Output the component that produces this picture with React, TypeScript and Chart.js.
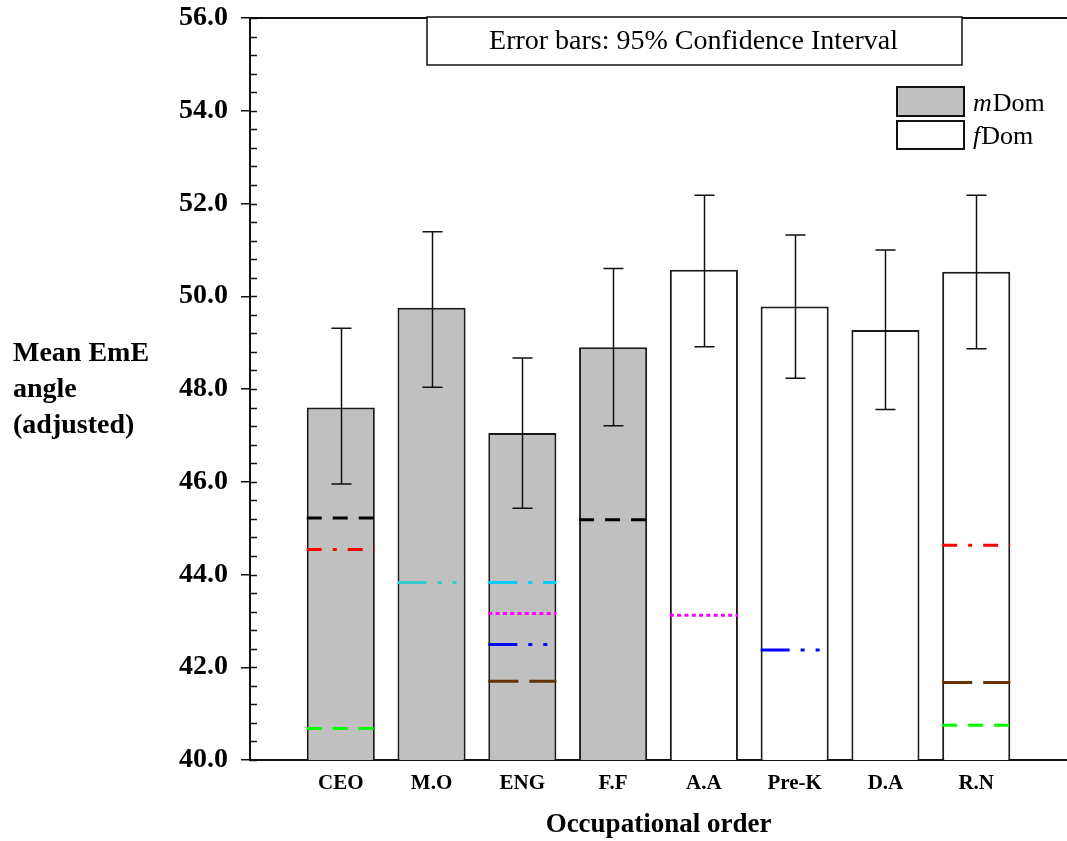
import React, { useEffect, useRef } from 'react';
import { Chart, registerables } from 'chart.js';

Chart.register(...registerables);

// ---------- data ----------
const categories = ['CEO', 'M.O', 'ENG', 'F.F', 'A.A', 'Pre-K', 'D.A', 'R.N'];
const mDomCategories = ['CEO', 'M.O', 'ENG', 'F.F'];
const fDomCategories = ['A.A', 'Pre-K', 'D.A', 'R.N'];
const mDomMeans = [47.6, 49.75, 47.05, 48.9];
const fDomMeans = [50.57, 49.78, 49.27, 50.53];
const ciLower = [45.95, 48.04, 45.43, 47.21, 48.91, 48.23, 47.56, 48.87];
const ciUpper = [49.31, 51.39, 48.67, 50.6, 52.18, 51.32, 51.0, 52.18];
const yTickValues = [40, 42, 44, 46, 48, 50, 52, 54, 56];

// reference marker lines inside bars
const refCategories = ['CEO', 'CEO', 'CEO', 'M.O', 'ENG', 'ENG', 'ENG', 'ENG', 'F.F', 'A.A', 'Pre-K', 'R.N', 'R.N', 'R.N'];
const refValues = [45.22, 44.54, 40.68, 43.83, 43.83, 43.16, 42.49, 41.7, 45.18, 43.12, 42.37, 44.63, 41.67, 40.75];
const refKinds = ['k', 'r', 'g', 'c', 's', 'm', 'b', 'n', 'k', 'm', 'b', 'r', 'n', 'g'];

const titleText = 'Error bars: 95% Confidence Interval';
const yTitleLines = ['Mean EmE', 'angle', '(adjusted)'];
const xTitleText = 'Occupational order';

// ---------- styles ----------
const refStyles: Record<string, { color: string; dash: number[] }> = {
  k: { color: '#000000', dash: [15, 11] },
  r: { color: '#ff0000', dash: [15, 11, 4, 11] },
  g: { color: '#00ff00', dash: [15, 11] },
  c: { color: '#33cccc', dash: [29, 11, 4, 11, 4, 11] },
  s: { color: '#00ccff', dash: [29, 11, 4, 11] },
  m: { color: '#ff00ff', dash: [4, 3.3] },
  b: { color: '#0000ff', dash: [29, 11, 4, 11, 4, 11] },
  n: { color: '#663300', dash: [30, 11] },
};

const SERIF = '"Liberation Serif", "Times New Roman", serif';
const HALF_BAR = 0.375;

const pos = (name: string) => categories.indexOf(name) + 1;

const decorPlugin = {
  id: 'decor',
  afterDatasetsDraw(chart: any) {
    const { ctx, scales } = chart;
    const x = scales.x;
    const y = scales.y;
    ctx.save();
    ctx.strokeStyle = '#111111';
    ctx.lineWidth = 1.5;
    categories.forEach((c, i) => {
      const px = Math.round(x.getPixelForValue(i + 1)) + 0.5;
      const lo = y.getPixelForValue(ciLower[i]);
      const hi = y.getPixelForValue(ciUpper[i]);
      ctx.beginPath();
      ctx.moveTo(px, lo);
      ctx.lineTo(px, hi);
      ctx.moveTo(px - 10, lo);
      ctx.lineTo(px + 10, lo);
      ctx.moveTo(px - 10, hi);
      ctx.lineTo(px + 10, hi);
      ctx.stroke();
    });
    ctx.restore();
  },
  afterDraw(chart: any) {
    const { ctx, chartArea, scales } = chart;
    const y = scales.y;
    const left = chartArea.left;
    ctx.save();
    // top border
    ctx.strokeStyle = '#111111';
    ctx.lineWidth = 2;
    ctx.beginPath();
    ctx.moveTo(left, chartArea.top);
    ctx.lineTo(chartArea.right, chartArea.top);
    ctx.stroke();

    // inner major and minor ticks on y axis
    ctx.lineWidth = 1.5;
    ctx.beginPath();
    for (let v = y.min; v <= y.max + 1e-6; v += 0.4) {
      const py = Math.round(y.getPixelForValue(v)) + 0.5;
      ctx.moveTo(left, py);
      ctx.lineTo(left + 7, py);
    }
    ctx.stroke();

    // title box
    const bx = 427, by = chartArea.top - 1, bw = 535, bh = 48;
    ctx.fillStyle = '#ffffff';
    ctx.fillRect(bx, by, bw, bh);
    ctx.lineWidth = 1.5;
    ctx.strokeStyle = '#111111';
    ctx.strokeRect(bx, by, bw, bh);
    ctx.fillStyle = '#000000';
    ctx.font = `28px ${SERIF}`;
    ctx.textAlign = 'center';
    ctx.textBaseline = 'middle';
    ctx.fillText(titleText, bx + bw / 2 - 1, by + bh / 2 + 1);

    // legend
    const lx = 897, lw = 67;
    ctx.lineWidth = 2;
    ctx.fillStyle = '#c0c0c0';
    ctx.fillRect(lx, 87, lw, 29);
    ctx.strokeRect(lx, 87, lw, 29);
    ctx.fillStyle = '#ffffff';
    ctx.fillRect(lx, 121, lw, 28);
    ctx.strokeRect(lx, 121, lw, 28);
    ctx.fillStyle = '#000000';
    ctx.textAlign = 'left';
    ctx.textBaseline = 'alphabetic';
    ctx.font = `italic 26px ${SERIF}`;
    ctx.fillText('m', 973, 111);
    const mw = ctx.measureText('m').width;
    ctx.fillText('f', 973, 144);
    const fw = ctx.measureText('f').width;
    ctx.font = `26px ${SERIF}`;
    ctx.fillText('Dom', 973 + mw + 1, 111);
    ctx.fillText('Dom', 973 + fw + 1, 144);

    // y title (horizontal, three lines)
    ctx.font = `bold 28px ${SERIF}`;
    ctx.fillText(yTitleLines[0], 13, 361);
    ctx.fillText(yTitleLines[1], 13, 397);
    ctx.fillText(yTitleLines[2], 13, 433);
    ctx.restore();
  },
};

export default function App() {
  const ref = useRef<HTMLCanvasElement | null>(null);

  useEffect(() => {
    if (!ref.current) return;
    const barDatasets: any[] = [
      {
        type: 'bar',
        label: 'mDom',
        data: mDomCategories.map((c, i) => ({ x: pos(c), y: mDomMeans[i] })),
        backgroundColor: '#c0c0c0',
        borderColor: '#1a1a1a',
        borderWidth: 2,
        grouped: false,
        barPercentage: 0.75,
        categoryPercentage: 1,
        order: 3,
      },
      {
        type: 'bar',
        label: 'fDom',
        data: fDomCategories.map((c, i) => ({ x: pos(c), y: fDomMeans[i] })),
        backgroundColor: '#ffffff',
        borderColor: '#1a1a1a',
        borderWidth: 2,
        grouped: false,
        barPercentage: 0.75,
        categoryPercentage: 1,
        order: 3,
      },
    ];
    const lineDatasets: any[] = refCategories.map((c, i) => {
      const st = refStyles[refKinds[i]];
      const cx = pos(c);
      return {
        type: 'line',
        label: 'ref' + i,
        data: [
          { x: cx - HALF_BAR, y: refValues[i] },
          { x: cx + HALF_BAR, y: refValues[i] },
        ],
        borderColor: st.color,
        borderDash: st.dash,
        borderWidth: 3,
        pointRadius: 0,
        fill: false,
        order: 1,
      };
    });

    const chart = new Chart(ref.current, {
      type: 'bar',
      data: { datasets: [...barDatasets, ...lineDatasets] },
      options: {
        animation: false,
        responsive: false,
        devicePixelRatio: 1,
        layout: { padding: { top: 18, left: 0, right: 0, bottom: 0 } },
        plugins: {
          legend: { display: false },
          tooltip: { enabled: false },
        },
        scales: {
          x: {
            type: 'linear',
            offset: false,
            min: 0,
            max: 9,
            grid: { display: false },
            border: { display: true, color: '#111111', width: 2 },
            afterBuildTicks: (scale: any) => {
              scale.ticks = categories.map((_, i) => ({ value: i + 1 }));
            },
            afterFit: (scale: any) => {
              scale.height = 81;
              scale.paddingLeft = 0;
              scale.paddingRight = 0;
            },
            ticks: {
              autoSkip: false,
              maxRotation: 0,
              padding: 3,
              color: '#000000',
              font: { family: SERIF, size: 21, weight: 'bold' },
              callback: (v: any) => categories[Math.round(Number(v)) - 1] ?? '',
            },
            title: {
              display: true,
              text: xTitleText,
              color: '#000000',
              font: { family: SERIF, size: 27, weight: 'bold', lineHeight: 1.1 },
              padding: { top: 4, bottom: 1 },
            },
          },
          y: {
            type: 'linear',
            min: 40,
            max: 56,
            afterBuildTicks: (scale: any) => {
              scale.ticks = yTickValues.map((v) => ({ value: v }));
            },
            afterFit: (scale: any) => {
              scale.width = 250;
              scale.paddingTop = 0;
              scale.paddingBottom = 0;
            },
            grid: {
              display: true,
              drawOnChartArea: false,
              drawTicks: true,
              tickLength: 9,
              color: '#111111',
              lineWidth: 1.5,
            },
            border: { display: true, color: '#111111', width: 2 },
            ticks: {
              padding: 13,
              color: '#000000',
              font: { family: SERIF, size: 28, weight: 'bold' },
              callback: (v: any) => Number(v).toFixed(1),
            },
          },
        },
      } as any,
      plugins: [decorPlugin],
    });
    return () => chart.destroy();
  }, []);

  return (
    <div style={{ position: 'absolute', left: 0, top: 0, width: 1067, height: 841, background: '#ffffff' }}>
      <canvas ref={ref} width={1067} height={841} style={{ display: 'block' }} />
    </div>
  );
}
